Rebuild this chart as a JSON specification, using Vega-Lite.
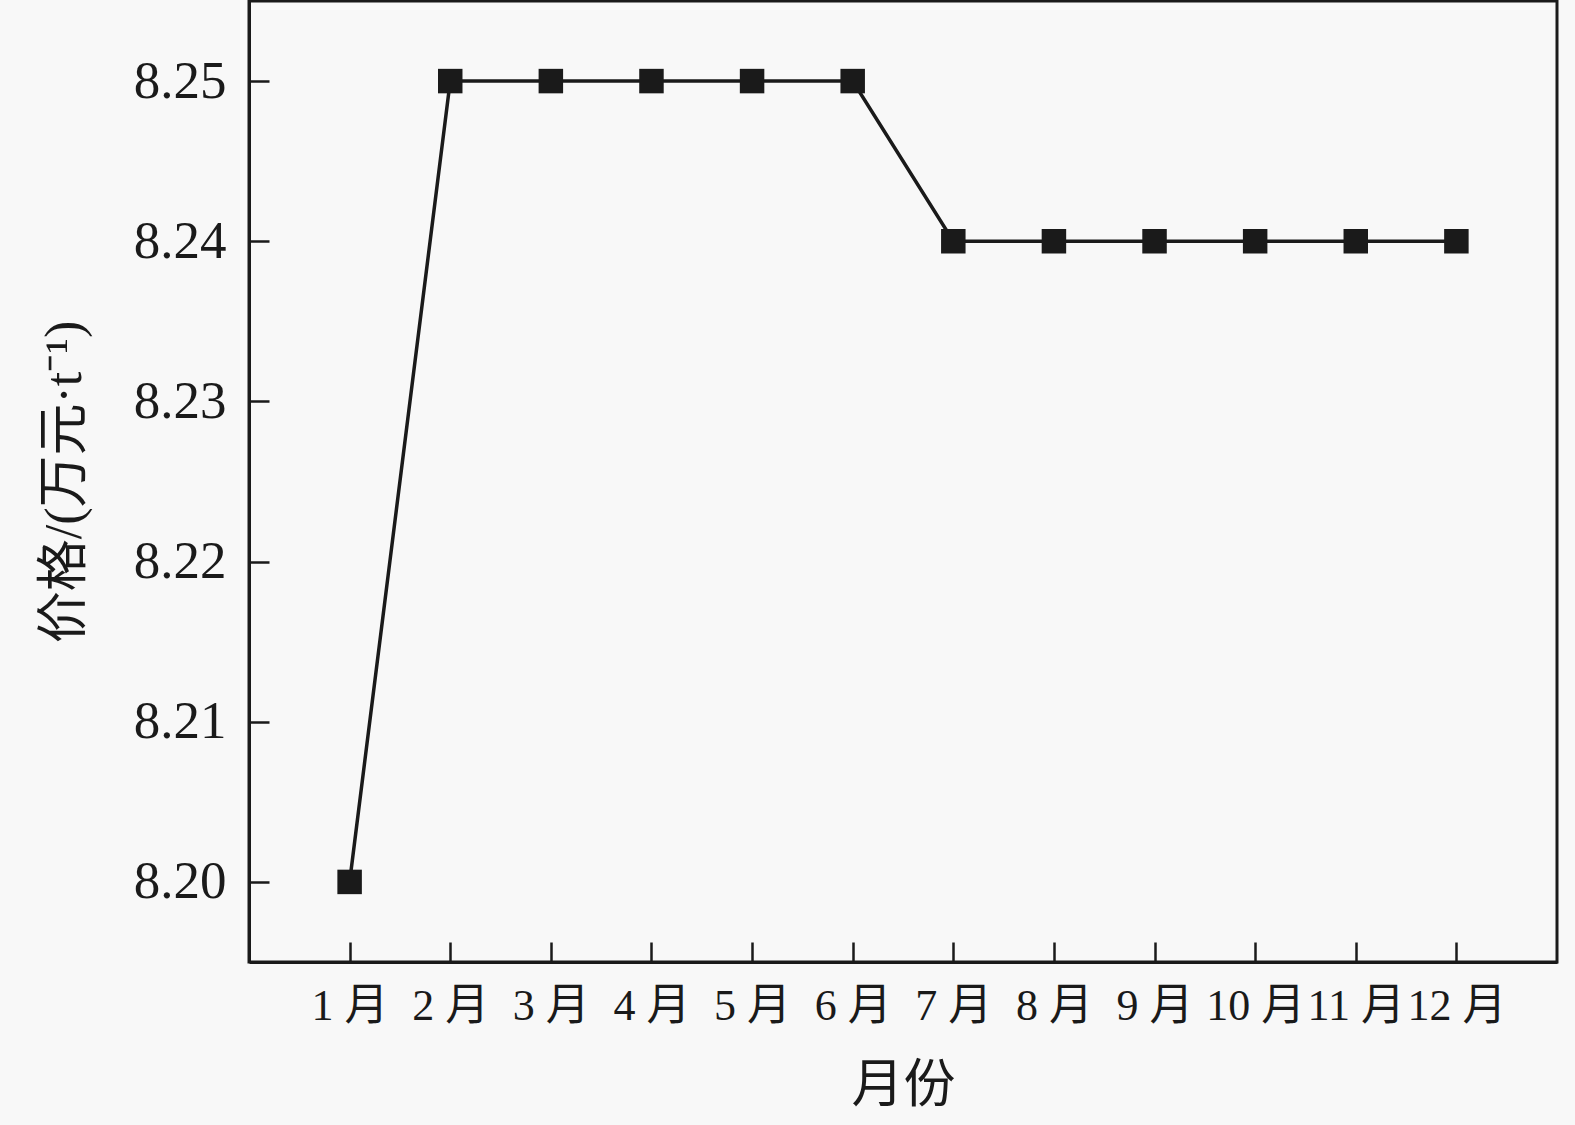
{
  "$schema": "https://vega.github.io/schema/vega-lite/v6.json",
  "width": 1308,
  "height": 961,
  "autosize": {"type": "none"},
  "padding": {"left": 249, "top": 1, "right": 18, "bottom": 163},
  "background": "#f8f8f8",
  "config": {
    "view": {"stroke": "#1a1a1a", "strokeWidth": 3},
    "font": "Liberation Serif",
    "axis": {
      "labelFont": "Liberation Serif, Noto Sans CJK SC",
      "titleFont": "Liberation Serif, Noto Sans CJK SC",
      "labelColor": "#1a1a1a",
      "titleColor": "#1a1a1a",
      "domainColor": "#1a1a1a",
      "domainWidth": 3,
      "tickColor": "#1a1a1a",
      "tickWidth": 2.5,
      "tickSize": -20,
      "grid": false,
      "titleFontWeight": "normal"
    }
  },
  "data": {
    "values": [
      {"m": 1, "label": "1 月", "price": 8.20},
      {"m": 2, "label": "2 月", "price": 8.25},
      {"m": 3, "label": "3 月", "price": 8.25},
      {"m": 4, "label": "4 月", "price": 8.25},
      {"m": 5, "label": "5 月", "price": 8.25},
      {"m": 6, "label": "6 月", "price": 8.25},
      {"m": 7, "label": "7 月", "price": 8.24},
      {"m": 8, "label": "8 月", "price": 8.24},
      {"m": 9, "label": "9 月", "price": 8.24},
      {"m": 10, "label": "10 月", "price": 8.24},
      {"m": 11, "label": "11 月", "price": 8.24},
      {"m": 12, "label": "12 月", "price": 8.24}
    ]
  },
  "encoding": {
    "x": {
      "field": "m",
      "type": "quantitative",
      "scale": {"domain": [0, 13], "nice": false, "zero": false},
      "axis": {
        "title": "月份",
        "values": [1, 2, 3, 4, 5, 6, 7, 8, 9, 10, 11, 12],
        "labelExpr": "datum.value + ' 月'",
        "labelFontSize": 44,
        "labelPadding": 42,
        "labelFlush": false,
        "labelOverlap": false,
        "titleFontSize": 52,
        "titlePadding": 32
      }
    },
    "y": {
      "field": "price",
      "type": "quantitative",
      "scale": {"domain": [8.195, 8.255], "nice": false, "zero": false},
      "axis": {
        "title": "价格/(万元·t⁻¹)",
        "values": [8.20, 8.21, 8.22, 8.23, 8.24, 8.25],
        "format": ".2f",
        "labelFontSize": 53,
        "labelPadding": 43,
        "labelFlush": false,
        "labelOverlap": false,
        "titleFontSize": 52,
        "titlePadding": 42
      }
    }
  },
  "layer": [
    {"mark": {"type": "line", "color": "#1a1a1a", "strokeWidth": 3.5}},
    {"mark": {"type": "square", "color": "#1a1a1a", "filled": true, "size": 600, "opacity": 1}}
  ]
}
